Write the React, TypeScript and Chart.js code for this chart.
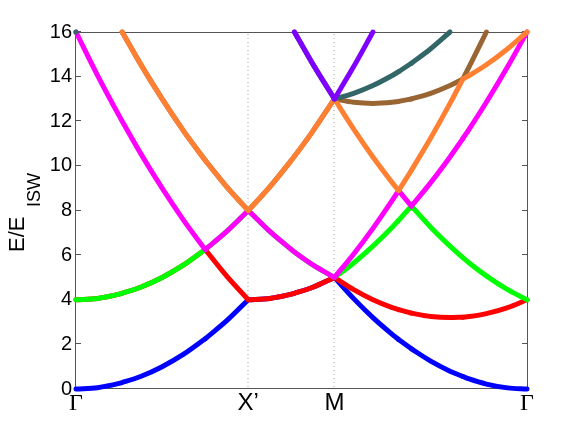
import React, { useEffect, useRef } from 'react';
import { Chart, registerables } from 'chart.js';

Chart.register(...registerables);

// Path coordinate along Γ → X' → M → Γ
const kPath = [
  0, 0.25, 0.5, 0.536, 0.75, 1, 1.25, 1.5, 1.75, 2,
  2.25, 2.5, 2.536, 2.75, 3,
  3.224, 3.447, 3.671, 3.745, 3.894, 4.118, 4.342, 4.491, 4.565, 4.764, 5.012, 5.236,
];

// points where bands cross / symmetry points (sharp corners)
const kinkPoints = [1.5, 2, 3, 3.745, 3.894, 4.491];

const symPoints = [0, 2, 3, 5.236];
const symLabels = ['Γ', 'X’', 'M', 'Γ'];
const yMin = 0;
const yMax = 16;
const yStep = 2;

const band1 = [0, 0.06, 0.25, 0.29, 0.56, 1, 1.56, 2.25, 3.06, 4, 4.06, 4.25, 4.29, 4.56, 5, 4.05, 3.2, 2.45, 2.22, 1.8, 1.25, 0.8, 0.56, 0.45, 0.22, 0.05, 0];
const band2 = [4, 4.06, 4.25, 4.29, 4.56, 5, 5.56, 6.25, 5.06, 4, 4.06, 4.25, 4.29, 4.56, 5, 4.45, 4, 3.65, 3.56, 3.4, 3.25, 3.2, 3.22, 3.25, 3.38, 3.65, 4];
const band3 = [4, 4.06, 4.25, 4.29, 4.56, 5, 5.56, 6.25, 7.06, 8, 7.06, 6.25, 6.14, 5.56, 5, 5.65, 6.4, 7.25, 7.56, 8.2, 7.25, 6.4, 5.89, 5.65, 5.07, 4.45, 4];
const band4 = [16, 14.06, 12.25, 12, 10.56, 9, 7.56, 6.25, 7.06, 8, 7.06, 6.25, 6.14, 5.56, 5, 6.05, 7.2, 8.45, 8.89, 8.2, 9.25, 10.4, 11.22, 11.65, 12.85, 14.45, 16];
const band5 = [null, null, null, 16, 14.56, 13, 11.56, 10.25, 9.06, 8, 9.06, 10.25, 10.43, 11.56, 13, 11.65, 10.4, 9.25, 8.89, 9.8, 11.25, 12.8, 13.89, 14.05, 14.53, 15.25, 16];
const band6 = [null, null, null, 16, 14.56, 13, 11.56, 10.25, 9.06, 8, 9.06, 10.25, 10.43, 11.56, 13, 12.85, 12.8, 12.85, 12.89, 13, 13.25, 13.6, 13.89, 14.45, 16, null, null];
const band7 = [16, null, null, null, null, null, null, null, null, null, null, null, 16, 14.56, 13, 13.25, 13.6, 14.05, 14.22, 14.6, 15.25, 16, null, null, null, null, null];
const band8 = [null, null, null, null, null, null, null, null, null, null, null, null, 16, 14.56, 13, 14.45, 16, null, null, null, null, null, null, null, null, null, null];

const bandColors = ['#0000ff', '#ff0000', '#00ff00', '#ff00ff', '#ff8033', '#996633', '#336666', '#8000ff'];
const bandOrder = [8, 7, 6, 5, 3, 4, 2, 1];

const SANS = '"Liberation Sans", Arial, Helvetica, sans-serif';
const SERIF = '"Liberation Serif", "Times New Roman", serif';

type Pt = { x: number; y: number };

function splitPieces(values: (number | null)[]): Pt[][] {
  const pieces: Pt[][] = [];
  let cur: Pt[] = [];
  kPath.forEach((x, j) => {
    const y = values[j];
    if (y === null || y === undefined) {
      if (cur.length) pieces.push(cur);
      cur = [];
      return;
    }
    cur.push({ x, y });
    if (kinkPoints.includes(x) && cur.length > 1) {
      pieces.push(cur);
      cur = [{ x, y }];
    }
  });
  if (cur.length) pieces.push(cur);
  return pieces;
}

const framePlugin = {
  id: 'frame',
  beforeDatasetsDraw(chart: any) {
    const { ctx, chartArea, scales } = chart;
    const { left, right, top, bottom } = chartArea;
    const x = scales.x;
    const y = scales.y;
    ctx.save();
    ctx.strokeStyle = '#d2d2d2';
    ctx.lineWidth = 2;
    ctx.setLineDash([1, 3]);
    symPoints.slice(1, -1).forEach((v) => {
      const px = Math.round(x.getPixelForValue(v));
      ctx.beginPath();
      ctx.moveTo(px, top + 2);
      ctx.lineTo(px, bottom);
      ctx.stroke();
    });
    ctx.setLineDash([]);
    ctx.strokeStyle = '#555555';
    ctx.lineWidth = 1;
    ctx.beginPath();
    ctx.moveTo(left - 0.5, top + 0.5);
    ctx.lineTo(right + 0.5, top + 0.5);
    ctx.lineTo(right + 0.5, bottom - 0.5);
    ctx.lineTo(left - 0.5, bottom - 0.5);
    ctx.closePath();
    ctx.stroke();
    y.ticks.forEach((t: any) => {
      const py = Math.round(y.getPixelForValue(t.value)) - 0.5;
      ctx.beginPath();
      ctx.moveTo(left - 0.5, py);
      ctx.lineTo(left + 5, py);
      ctx.moveTo(right + 0.5, py);
      ctx.lineTo(right - 5, py);
      ctx.stroke();
    });
    ctx.restore();
  },
  afterDraw(chart: any) {
    const { ctx } = chart;
    ctx.save();
    ctx.fillStyle = '#000';
    ctx.textAlign = 'left';
    ctx.textBaseline = 'alphabetic';
    ctx.font = `22px ${SANS}`;
    ctx.translate(24, 252);
    ctx.rotate(-Math.PI / 2);
    ctx.fillText('E/E', 0, 0);
    ctx.restore();
    ctx.save();
    ctx.fillStyle = '#000';
    ctx.textAlign = 'left';
    ctx.textBaseline = 'alphabetic';
    ctx.font = `18px ${SANS}`;
    ctx.translate(40, 207);
    ctx.rotate(-Math.PI / 2);
    ctx.fillText('ISW', 0, 0);
    ctx.restore();
  },
};

export default function App() {
  const ref = useRef<HTMLCanvasElement>(null);

  useEffect(() => {
    const bands = [band1, band2, band3, band4, band5, band6, band7, band8];
    const datasets: any[] = [];
    bands.forEach((b, i) => {
      splitPieces(b).forEach((piece, p) => {
        datasets.push({
          label: `band ${i + 1} (${p + 1})`,
          data: piece,
          borderColor: bandColors[i],
          backgroundColor: bandColors[i],
          pointBackgroundColor: bandColors[i],
          borderWidth: 5,
          borderCapStyle: 'round',
          borderJoinStyle: 'round',
          pointRadius: piece.length === 1 ? 2.6 : 0,
          pointBorderWidth: 0,
          pointHoverRadius: 0,
          cubicInterpolationMode: 'monotone',
          spanGaps: false,
          clip: false,
          fill: false,
          order: bandOrder[i],
        });
      });
    });

    const chart = new Chart(ref.current as HTMLCanvasElement, {
      type: 'line',
      data: { datasets } as any,
      options: {
        animation: false,
        responsive: false,
        events: [],
        layout: { padding: { top: 32, right: 55, left: 0, bottom: 0 } },
        plugins: { legend: { display: false }, tooltip: { enabled: false } },
        scales: {
          x: {
            type: 'linear',
            min: symPoints[0],
            max: symPoints[symPoints.length - 1],
            afterBuildTicks: (scale: any) => {
              scale.ticks = symPoints.map((v) => ({ value: v }));
            },
            afterFit: (scale: any) => {
              scale.height = 49;
            },
            grid: { display: false, drawTicks: false },
            border: { display: false },
            ticks: {
              autoSkip: false,
              maxRotation: 0,
              padding: 0,
              color: '#000',
              callback: (_v: any, i: number) => symLabels[i],
              font: (c: any) =>
                symLabels[c.index] === 'Γ'
                  ? { family: SERIF, size: 24, lineHeight: 1.2 }
                  : { family: SANS, size: 24, lineHeight: 1.2 },
            },
          },
          y: {
            type: 'linear',
            min: yMin,
            max: yMax,
            afterFit: (scale: any) => {
              scale.width = 76;
            },
            grid: { display: false, drawTicks: false },
            border: { display: false },
            ticks: {
              stepSize: yStep,
              padding: 4,
              color: '#000',
              font: { family: SANS, size: 20 },
            },
          },
        },
      } as any,
      plugins: [framePlugin],
    });
    return () => chart.destroy();
  }, []);

  return (
    <div style={{ position: 'fixed', left: 0, top: 0, width: 582, height: 438, background: '#fff' }}>
      <canvas ref={ref} width={582} height={438} style={{ display: 'block' }} />
    </div>
  );
}
